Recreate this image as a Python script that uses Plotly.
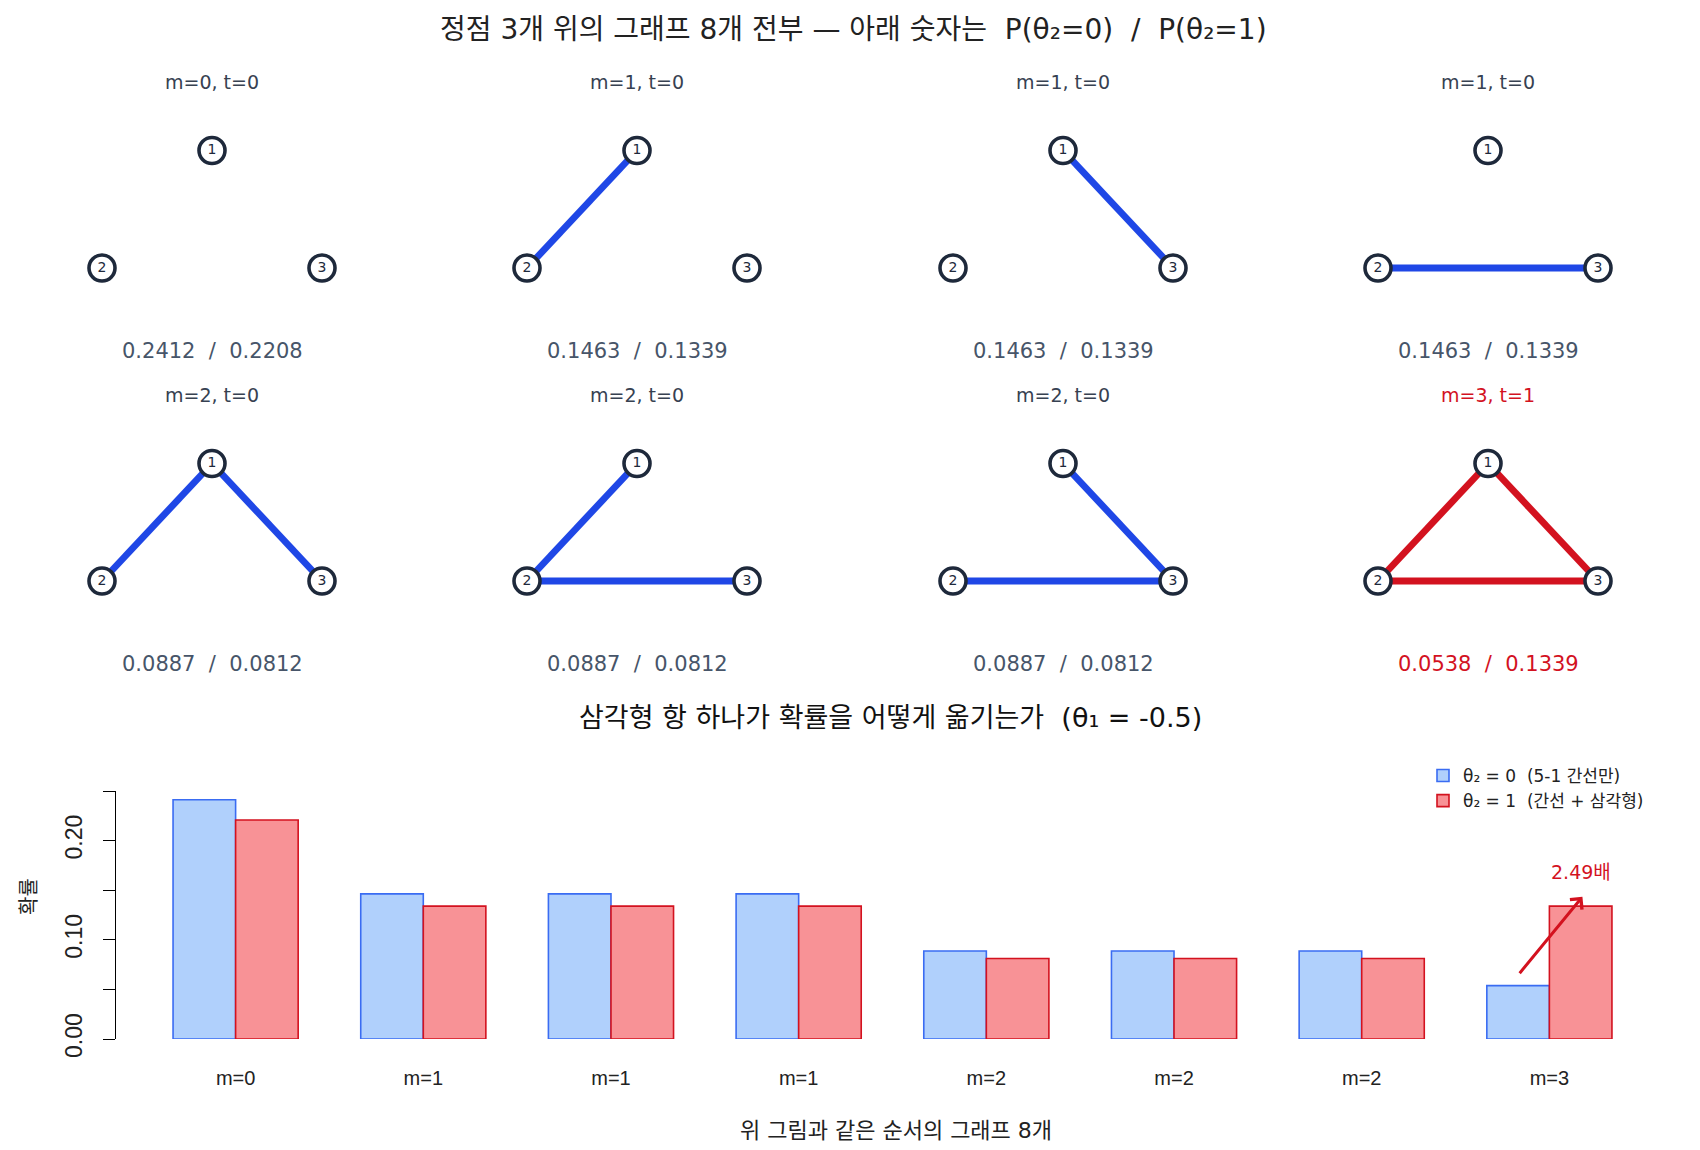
import plotly.graph_objects as go

# the page body adds an 8px margin, so the figure is drawn 8px in from the corner
PAGE_W, PAGE_H = 1700, 1150
OFF = 8
W, H = PAGE_W - OFF, PAGE_H - OFF

# ---- data ----
NODE_IDS = [1, 2, 3]
NODE_X = [0, -1, 1]
NODE_Y = [1, 0, 0]

GRAPH_TITLES = ["m=0, t=0", "m=1, t=0", "m=1, t=0", "m=1, t=0",
                "m=2, t=0", "m=2, t=0", "m=2, t=0", "m=3, t=1"]
GRAPH_EDGES = [[], [(1, 2)], [(1, 3)], [(2, 3)],
               [(1, 2), (1, 3)], [(1, 2), (2, 3)], [(1, 3), (2, 3)],
               [(1, 2), (1, 3), (2, 3)]]
HAS_TRIANGLE = [0, 0, 0, 0, 0, 0, 0, 1]

P_THETA0 = [0.2412, 0.1463, 0.1463, 0.1463, 0.0887, 0.0887, 0.0887, 0.0538]
P_THETA1 = [0.2208, 0.1339, 0.1339, 0.1339, 0.0812, 0.0812, 0.0812, 0.1339]
BAR_LABELS = ["m=0", "m=1", "m=1", "m=1", "m=2", "m=2", "m=2", "m=3"]
Y_TICKS = [0, 0.05, 0.10, 0.15, 0.20, 0.25]
Y_TICK_TEXT = ["0.00", "", "0.10", "", "0.20", ""]

# ---- styles ----
BLUE = "#1f47e6"
RED = "#d3121f"
NODE_COL = "#1e293b"
FONT = "DejaVu Sans, Noto Sans CJK KR"

COL_PX = [212, 637, 1063, 1488]
ROW_PX = [268, 581]
UX, UY = 110, 117.5
HALF = 1.8  # half width of each small panel, in node units


def px_x(px):
    return (px - OFF) / W


def px_y(py):
    return 1 - (py - OFF) / H


def label(px, py, text, size, color, **kw):
    return dict(x=px_x(px), y=px_y(py), xref="paper", yref="paper",
                xanchor="center", yanchor="middle", showarrow=False,
                text=text, font=dict(family=FONT, size=size, color=color), **kw)


fig = go.Figure()
layout = {}
annotations = []

for i, edges in enumerate(GRAPH_EDGES):
    n = i + 1
    suffix = "" if n == 1 else str(n)
    cx = COL_PX[i % 4]
    base = ROW_PX[i // 4]
    red = HAS_TRIANGLE[i] == 1
    ecol = RED if red else BLUE

    layout["xaxis" + suffix] = dict(
        domain=[px_x(cx - HALF * UX), px_x(cx + HALF * UX)], range=[-HALF, HALF],
        visible=False, fixedrange=True, automargin=False, anchor="y" + suffix)
    layout["yaxis" + suffix] = dict(
        domain=[px_y(base + 0.5 * UY), px_y(base - 1.5 * UY)], range=[-0.5, 1.5],
        visible=False, fixedrange=True, automargin=False, anchor="x" + suffix)

    ex, ey = [], []
    for a, b in edges:
        ex += [NODE_X[a - 1], NODE_X[b - 1], None]
        ey += [NODE_Y[a - 1], NODE_Y[b - 1], None]
    if ex:
        fig.add_trace(go.Scatter(
            x=ex, y=ey, mode="lines", line=dict(color=ecol, width=6.8),
            xaxis="x" + suffix, yaxis="y" + suffix, showlegend=False, hoverinfo="skip"))

    fig.add_trace(go.Scatter(
        x=NODE_X, y=NODE_Y, mode="markers+text", text=[str(k) for k in NODE_IDS],
        textposition="middle center",
        textfont=dict(family=FONT, size=14, color=NODE_COL),
        marker=dict(size=26, color="white", line=dict(color=NODE_COL, width=3.6)),
        xaxis="x" + suffix, yaxis="y" + suffix, showlegend=False, hoverinfo="skip"))

    annotations.append(label(cx, base - 186, GRAPH_TITLES[i], 19,
                             RED if red else "#374151"))
    annotations.append(label(cx, base + 83, f"{P_THETA0[i]:.4f}  /  {P_THETA1[i]:.4f}",
                             21, RED if red else "#475569"))

# ---- bar chart ----
xs = list(range(len(BAR_LABELS)))
fig.add_trace(go.Bar(
    x=xs, y=P_THETA0, name="θ₂ = 0  (5-1 간선만)",
    marker=dict(color="#b0d0fc", line=dict(color="#3a6cf2", width=1.6)),
    xaxis="x9", yaxis="y9"))
fig.add_trace(go.Bar(
    x=xs, y=P_THETA1, name="θ₂ = 1  (간선 + 삼각형)",
    marker=dict(color="#f89296", line=dict(color=RED, width=1.6)),
    xaxis="x9", yaxis="y9"))

layout["xaxis9"] = dict(
    domain=[px_x(123), px_x(1662)], range=[-0.6, 7.6], anchor="y9",
    tickvals=xs, ticktext=BAR_LABELS, ticks="", showline=False,
    showgrid=False, zeroline=False, ticklabelstandoff=25, automargin=False,
    tickfont=dict(family="Liberation Sans", size=20, color="#222"))
layout["yaxis9"] = dict(
    domain=[px_y(1039), px_y(791)], range=[0, 0.25], anchor="free",
    position=px_x(115), showline=True, linecolor="black", linewidth=1.4,
    ticks="outside", ticklen=12, tickwidth=1.4, tickcolor="black",
    tickvals=Y_TICKS, ticktext=Y_TICK_TEXT, tickangle=-90,
    ticklabelstandoff=12, showgrid=False, zeroline=False, automargin=False,
    tickfont=dict(family="Liberation Sans", size=23, color="#222"))

ratio = P_THETA1[-1] / P_THETA0[-1]
last = len(BAR_LABELS) - 1
annotations.append(dict(
    x=last + 0.176, y=P_THETA1[-1] + 0.0095, ax=last - 0.165, ay=P_THETA0[-1] + 0.011,
    xref="x9", yref="y9", axref="x9", ayref="y9", text="", showarrow=True,
    arrowhead=4, arrowsize=1, arrowwidth=3, arrowcolor=RED))
annotations.append(dict(
    x=last + 0.17, y=P_THETA1[-1] + 0.034, xref="x9", yref="y9",
    xanchor="center", yanchor="middle",
    text=f"{ratio:.2f}배", showarrow=False,
    font=dict(family=FONT, size=19, color=RED)))

# ---- titles ----
annotations.append(label(853, 30, "정점 3개 위의 그래프 8개 전부 — 아래 숫자는  P(θ₂=0)  /  P(θ₂=1)",
                         28, "#222"))
annotations.append(label(891, 717, "삼각형 항 하나가 확률을 어떻게 옮기는가  (θ₁ = -0.5)",
                         27, "#111"))
annotations.append(label(896, 1130, "위 그림과 같은 순서의 그래프 8개", 22, "#222"))
annotations.append(label(29, 897, "확률", 20, "#222", textangle=-90))

fig.update_layout(
    **layout,
    annotations=annotations,
    width=W, height=H,
    margin=dict(l=0, r=0, t=0, b=0, autoexpand=False),
    paper_bgcolor="white", plot_bgcolor="white",
    barmode="group", bargap=1 / 3, bargroupgap=0,
    legend=dict(x=px_x(1423), y=px_y(758), xanchor="left", yanchor="top",
                bgcolor="rgba(0,0,0,0)", tracegroupgap=0,
                font=dict(family=FONT, size=17, color="#222")),
)

fig.write_html("out.html")
